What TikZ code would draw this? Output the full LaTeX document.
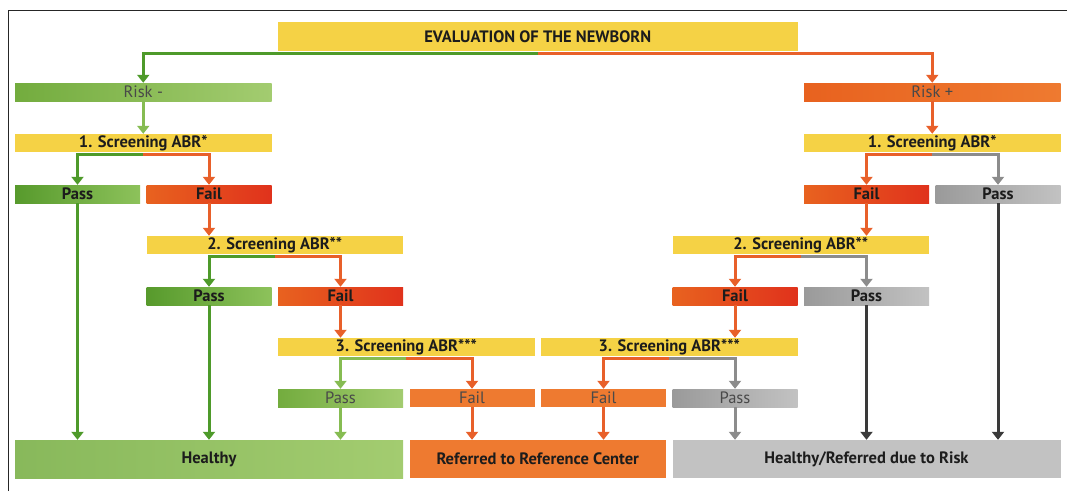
\documentclass[tikz,border=0pt]{standalone}
\usepackage{fontspec}
\setmainfont{PT Sans}
\usetikzlibrary{arrows.meta}

\definecolor{ylw}{HTML}{F5D245}
\definecolor{grnA}{HTML}{579A2C}
\definecolor{grnB}{HTML}{8DC25B}
\definecolor{grnC}{HTML}{73AC3E}
\definecolor{grnD}{HTML}{A3CC70}
\definecolor{redA}{HTML}{E8621F}
\definecolor{redB}{HTML}{E0321C}
\definecolor{orn}{HTML}{EE7A30}
\definecolor{gryA}{HTML}{9A9A9A}
\definecolor{gryB}{HTML}{C2C2C2}
\definecolor{txt}{HTML}{1C1C1C}
\definecolor{gline}{HTML}{4E9A2A}
\definecolor{lgline}{HTML}{86BC52}
\definecolor{oline}{HTML}{E8602A}
\definecolor{kline}{HTML}{8C8C8C}
\definecolor{dline}{HTML}{3A3A3A}

\tikzset{
	bar/.style={minimum width=125pt, minimum height=18pt, inner sep=0pt, text=txt,
		font=\bfseries\fontsize{16.5}{16.5}\selectfont},
	wide/.style={bar, minimum width=256.5pt},
	big/.style={bar, minimum width=388pt, minimum height=38pt},
	yel/.style={fill=ylw},
	pass/.style={left color=grnA, right color=grnB},
	fail/.style={left color=redA, right color=redB},
	grey/.style={left color=gryA, right color=gryB},
	thin/.style={font=\fontsize{16.5}{16.5}\selectfont, text=txt!80},
	link/.style={line width=3pt, -{Triangle[width=12pt,length=8pt]}}
}

\begin{document}
\begin{tikzpicture}[x=1pt, y=-1pt]
	\useasboundingbox (0,0) rectangle (1067,491);
	\draw[line width=1pt, black!85] (8,491) -- (8,10) -- (1067,10);

	% boxes
	\node[bar, yel, minimum width=519.5pt, minimum height=29pt] (eval) at (537.75,36.5) {EVALUATION OF THE NEWBORN};
	\node[wide, thin, left color=grnC, right color=grnD] (riskl) at (143.25,92) {Risk -};
	\node[wide, thin, left color=redA, right color=orn] (riskr) at (932.25,92) {Risk +};

	\node[wide, yel] (s1l) at (143.25,143) {1. Screening ABR*};
	\node[wide, yel] (s1r) at (932.25,143) {1. Screening ABR*};
	\node[bar, pass] (p1l) at (77.5,194) {Pass};
	\node[bar, fail] (f1l) at (209,194) {Fail};
	\node[bar, fail] (f1r) at (866.5,194) {Fail};
	\node[bar, grey] (p1r) at (998,194) {Pass};

	\node[wide, yel] (s2l) at (274.75,245) {2. Screening ABR**};
	\node[wide, yel] (s2r) at (800.75,245) {2. Screening ABR**};
	\node[bar, pass] (p2l) at (209,296) {Pass};
	\node[bar, fail] (f2l) at (340.5,296) {Fail};
	\node[bar, fail] (f2r) at (735,296) {Fail};
	\node[bar, grey] (p2r) at (866.5,296) {Pass};

	\node[wide, yel] (s3l) at (406.25,347) {3. Screening ABR***};
	\node[wide, yel] (s3r) at (669.25,347) {3. Screening ABR***};
	\node[bar, thin, left color=grnC, right color=grnD] (p3l) at (340.5,398) {Pass};
	\node[bar, thin, fill=orn] (f3l) at (472,398) {Fail};
	\node[bar, thin, fill=orn] (f3r) at (603.5,398) {Fail};
	\node[bar, thin, grey] (p3r) at (735,398) {Pass};

	\node[big, left color=grnC!85, right color=grnD] (healthy) at (209,459) {Healthy};
	\node[wide, minimum height=38pt, fill=orn] (refer) at (537.75,459) {Referred to Reference Center};
	\node[big, fill=gryB] (hrisk) at (866.5,459) {Healthy/Referred due to Risk};

	% connectors
	\draw[link, gline] ([yshift=-2pt]eval.south) -| (riskl);
	\draw[link, oline] ([yshift=-2pt]eval.south) -| (riskr);
	\draw[link, lgline] (riskl) -- (s1l);
	\draw[link, oline] (riskr) -- (s1r);

	\draw[link, gline] ([yshift=-2pt]s1l.south) -| (p1l);
	\draw[link, oline] ([yshift=-2pt]s1l.south) -| (f1l);
	\draw[link, oline] ([yshift=-2pt]s1r.south) -| (f1r);
	\draw[link, kline] ([yshift=-2pt]s1r.south) -| (p1r);
	\draw[link, oline] (f1l) -- (f1l |- s2l.north);
	\draw[link, oline] (f1r) -- (f1r |- s2r.north);

	\draw[link, gline] ([yshift=-2pt]s2l.south) -| (p2l);
	\draw[link, oline] ([yshift=-2pt]s2l.south) -| (f2l);
	\draw[link, oline] ([yshift=-2pt]s2r.south) -| (f2r);
	\draw[link, kline] ([yshift=-2pt]s2r.south) -| (p2r);
	\draw[link, oline] (f2l) -- (f2l |- s3l.north);
	\draw[link, oline] (f2r) -- (f2r |- s3r.north);

	\draw[link, lgline] ([yshift=-2pt]s3l.south) -| (p3l);
	\draw[link, oline] ([yshift=-2pt]s3l.south) -| (f3l);
	\draw[link, oline] ([yshift=-2pt]s3r.south) -| (f3r);
	\draw[link, kline] ([yshift=-2pt]s3r.south) -| (p3r);

	\draw[link, gline] (p1l) -- (p1l |- healthy.north);
	\draw[link, gline] (p2l) -- (p2l |- healthy.north);
	\draw[link, lgline] (p3l) -- (p3l |- healthy.north);
	\draw[link, oline] (f3l) -- (f3l |- refer.north);
	\draw[link, oline] (f3r) -- (f3r |- refer.north);
	\draw[link, kline] (p3r) -- (p3r |- hrisk.north);
	\draw[link, dline] (p2r) -- (p2r |- hrisk.north);
	\draw[link, dline] (p1r) -- (p1r |- hrisk.north);
\end{tikzpicture}
\end{document}
